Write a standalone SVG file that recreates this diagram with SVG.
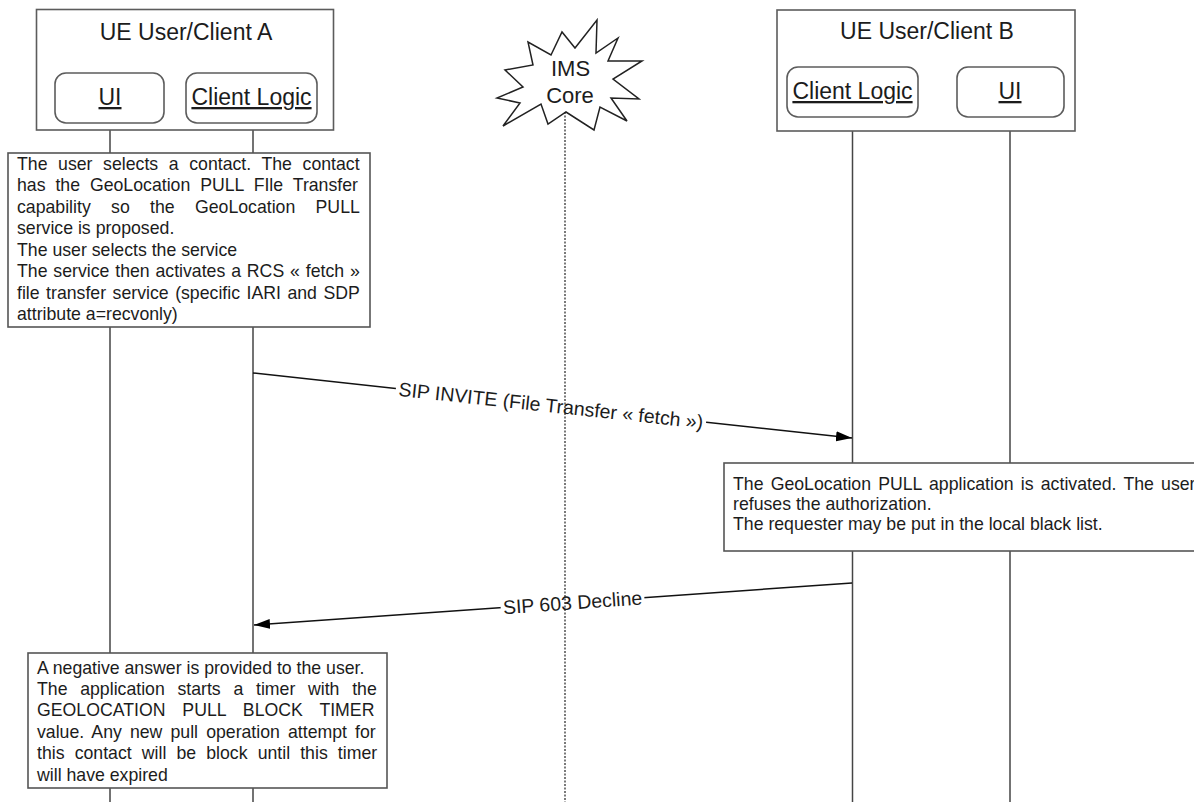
<svg xmlns="http://www.w3.org/2000/svg" width="1194" height="802" viewBox="0 0 1194 802">
<defs>
<style>
text{font-family:"Liberation Sans",Arial,sans-serif;fill:#1c1c1c}
.frame{fill:#fff;stroke:#5c5c5c;stroke-width:1.6}
.obj{fill:#fff;stroke:#5c5c5c;stroke-width:1.6}
.t23{font-size:23px;text-anchor:middle}
.u{text-decoration:underline}
.note{fill:#fff;stroke:#555;stroke-width:1.6}
.nt{font-size:17.7px}
.life{stroke:#454545;stroke-width:1.5;fill:none}
.msg{stroke:#111;stroke-width:1.5;fill:none}
.lbl{font-size:19.5px;text-anchor:middle}
</style>
<marker id="ah" markerUnits="userSpaceOnUse" markerWidth="17" markerHeight="11" refX="16" refY="5" orient="auto">
<path d="M0,0 L16,5 L0,10 z" fill="#000"/>
</marker>
</defs>
<rect width="1194" height="802" fill="#fff"/>

<g id="lifelines" class="life">
<line x1="110" y1="123" x2="110" y2="153"/>
<line x1="110" y1="327" x2="110" y2="653"/>
<line x1="110" y1="788" x2="110" y2="802"/>
<line x1="253" y1="123" x2="253" y2="153"/>
<line x1="253" y1="327" x2="253" y2="653"/>
<line x1="253" y1="788" x2="253" y2="802"/>
<line x1="852.5" y1="117" x2="852.5" y2="463"/>
<line x1="852.5" y1="551" x2="852.5" y2="802"/>
<line x1="1010" y1="117" x2="1010" y2="463"/>
<line x1="1010" y1="551" x2="1010" y2="802"/>
</g>

<g id="clientA">
<rect class="frame" x="36.5" y="9.5" width="297" height="120.5"/>
<text class="t23" x="186" y="39.5">UE User/Client A</text>
<g id="uiA">
<rect class="obj" x="55" y="73" width="109" height="50" rx="11"/>
<text class="t23 u" x="110" y="105">UI</text>
</g>
<g id="logicA">
<rect class="obj" x="186" y="73" width="131" height="50" rx="11"/>
<text class="t23 u" x="251.5" y="105">Client Logic</text>
</g>
</g>

<g id="ims">
<path d="M597,20 L596,53 L618,38 L608,61 L642,61 L613,79 L639,99 L611,98 L627,121 L600,107 L594,130 L566,112 L548,124 L541,104 L503,126 L520,103 L497,98 L523,87 L505,70 L533,65 L528,42 L551,55 L562,32 L575,48 Z" fill="#fff" stroke="#222" stroke-width="1.5" stroke-linejoin="miter"/>
<text class="t23" style="font-size:22px" x="570.5" y="76">IMS</text>
<text class="t23" style="font-size:22px" x="570" y="103">Core</text>
</g>

<g id="clientB">
<rect class="frame" x="777" y="10" width="298" height="121"/>
<text class="t23" x="927" y="38.5">UE User/Client B</text>
<g id="logicB">
<rect class="obj" x="787" y="67" width="131" height="50" rx="11"/>
<text class="t23 u" x="852.5" y="99">Client Logic</text>
</g>
<g id="uiB">
<rect class="obj" x="957" y="67" width="107" height="50" rx="11"/>
<text class="t23 u" x="1010" y="99">UI</text>
</g>
</g>

<g id="noteA">
<rect class="note" x="8" y="153" width="362" height="174"/>
<text class="nt" x="17" y="170" word-spacing="5.7">The user selects a contact. The contact</text>
<text class="nt" x="17" y="191.4" word-spacing="5.0">has the GeoLocation PULL FIle Transfer</text>
<text class="nt" x="17" y="212.9" word-spacing="15.4">capability so the GeoLocation PULL</text>
<text class="nt" x="17" y="234.3">service is proposed.</text>
<text class="nt" x="17" y="255.7">The user selects the service</text>
<text class="nt" x="17" y="277.1" word-spacing="0.94">The service then activates a RCS « fetch »</text>
<text class="nt" x="17" y="298.6" word-spacing="1.6">file transfer service (specific IARI and SDP</text>
<text class="nt" x="17" y="320">attribute a=recvonly)</text>
</g>

<g id="noteB">
<rect class="note" x="724" y="463" width="500" height="88"/>
<text class="nt" x="733" y="489.5" word-spacing="2.3">The GeoLocation PULL application is activated. The user</text>
<text class="nt" x="733" y="509.8">refuses the authorization.</text>
<text class="nt" x="733" y="530.1">The requester may be put in the local black list.</text>
</g>

<g id="noteC">
<rect class="note" x="28" y="653" width="359" height="135"/>
<text class="nt" x="37" y="673.5">A negative answer is provided to the user.</text>
<text class="nt" x="37" y="694.9" word-spacing="7.8">The application starts a timer with the</text>
<text class="nt" x="37" y="716.3" word-spacing="12">GEOLOCATION PULL BLOCK TIMER</text>
<text class="nt" x="37" y="737.7" word-spacing="3.2">value. Any new pull operation attempt for</text>
<text class="nt" x="37" y="759.1" word-spacing="5.2">this contact will be block until this timer</text>
<text class="nt" x="37" y="780.5">will have expired</text>
</g>

<g id="connectors">
<g id="msg-invite">
<line class="msg" x1="253" y1="373" x2="852" y2="438" marker-end="url(#ah)"/>
<g transform="translate(551,405.3) rotate(6.19)">
<rect x="-156" y="-11" width="312" height="22" fill="#fff"/>
<text class="lbl" x="0" y="7">SIP INVITE (File Transfer « fetch »)</text>
</g>
</g>
<g id="msg-decline">
<line class="msg" x1="852" y1="583" x2="254" y2="625" marker-end="url(#ah)"/>
<g transform="translate(572.5,602.4) rotate(-4.03)">
<rect x="-72" y="-11" width="144" height="22" fill="#fff"/>
<text class="lbl" x="0" y="7">SIP 603 Decline</text>
</g>
</g>
<line id="ims-lifeline" x1="565" y1="112" x2="565" y2="802" stroke="#222" stroke-width="1.2" stroke-dasharray="2 1.5"/>
</g>
</svg>
